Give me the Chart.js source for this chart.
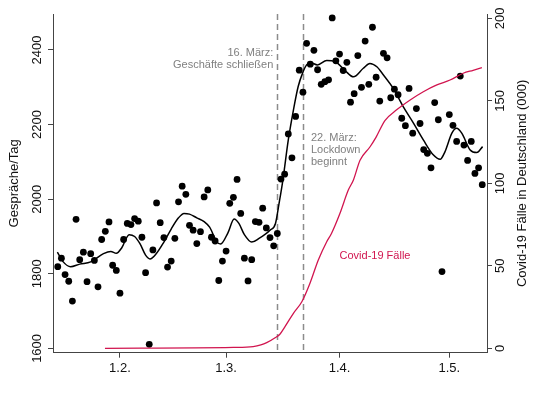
<!DOCTYPE html>
<html>
<head>
<meta charset="utf-8">
<script src="https://cdn.jsdelivr.net/npm/chart.js@4.4.1/dist/chart.umd.min.js"></script>
<style>
    html, body { margin: 0; padding: 0; background: #fff; }
    #wrap { width: 540px; height: 393px; }
</style>
</head>
<body>
<div id="wrap"><canvas id="chart"></canvas></div>
<script>

// =====================================================
// Daten (Tage ab 1. Januar, 0 = 1.1.)
// =====================================================

const ersterTag = 14;

// Gespräche pro Tag, ab Tag 14 (null = kein Wert)
const gespraeche = [
    1819, 1842, 1798, 1780, 1727, 1946, 1838, 1858, 1779, 1854,
    1836, 1765, 1892, 1914, 1939, 1823, 1809, 1748, 1892, 1935,
    1932, 1948, 1941, 1898, 1803, 1611, 1864, 1990, 1937, 1897,
    1818, 1834, 1895, 1993, 2035, 2013, 1930, 1917, 1881, 1913,
    2006, 2025, 1898, 1888, 1782, 1834, 1861, 1989, 2005, 2053,
    1962, 1842, 1781, 1838, 1940, 1938, 1976, 1923, 1897, 1875,
    1908, 2054, 2067, 2175, 2111, 2222, 2346, 2287, 2418, 2362,
    2399, 2347, 2308, 2315, 2320, 2486, 2371, 2389, 2345, 2367,
    2260, 2283, 2385, 2300, 2424, 2308, 2461, 2327, 2263, 2391,
    2379, 2272, 2295, 2280, 2217, 2197, 2297, 2177, 2243, 2203,
    2133, 2123, 2084, 2259, 2213, 1806, null, 2227, 2198, 2155,
    2330, 2145, 2104, 2155, 2069, 2084, 2039
];

// geglättete Kurve
const glattTage = [
    13.9, 15.5, 17.5, 20, 23, 26.5, 28.5, 30, 31.5, 33.5,
    35, 36.5, 38, 39.2, 41, 43, 45, 47, 48.5, 50,
    52, 54, 55.5, 57.5, 58.5, 60.5, 62.2, 63.5, 65, 67,
    69, 72, 73.5, 74.5, 75.5, 77, 78.4, 79.7, 80.9, 82,
    83, 85, 87.5, 89.8, 92.5, 94.8, 97.5, 99.3, 101.2, 103,
    105.7, 108.4, 111.2, 113.9, 116.6, 118.5, 119.8, 121.7, 123, 124.4,
    126.7, 128.5, 130.1
];
const glattWerte = [
    1858, 1832, 1819, 1826, 1832, 1854, 1860, 1855, 1870, 1905,
    1900, 1880, 1850, 1840, 1855, 1885, 1920, 1950, 1962, 1960,
    1950, 1940, 1925, 1885, 1880, 1910, 1947, 1935, 1905, 1885,
    1895, 1917, 1935, 1990, 2050, 2159, 2239, 2302, 2338, 2360,
    2366, 2360, 2372, 2369, 2345, 2328, 2351, 2364, 2355, 2333,
    2297, 2248, 2204, 2159, 2119, 2107, 2127, 2177, 2190, 2177,
    2132, 2125, 2141
];

// Covid-19 Fälle in Deutschland (000)
const faelleTage = [
    26.9, 62, 67.4, 69.5, 71.1, 73.4, 74.7, 76.1, 78.4, 80.7,
    82.9, 85.2, 87.5, 88.8, 91.1, 93.4, 94.8, 96.6, 99.3, 101,
    103.4, 106.6, 110.3, 113.9, 117.6, 121.2, 124.8, 127.5, 129.9
];
const faelleWerte = [
    0, 0.5, 1, 2, 3.4, 6.4, 8.5, 13.1, 21.2, 28.2,
    39.3, 53.5, 64.6, 69.6, 81.7, 95.9, 102, 114, 122, 128,
    138, 144.5, 150.5, 155.5, 159.6, 162.6, 166.7, 168.5, 170.1
];

const xTicks = [31, 60, 91, 121];
const xLabels = ["1.2.", "1.3.", "1.4.", "1.5."];
const yTicks = [1600, 1800, 2000, 2200, 2400];
const y1Ticks = [0, 50, 100, 150, 200];

const ereignisTage = [74, 81];
const ereignisTexte = [
    ["16. März:", "Geschäfte schließen"],
    ["22. März:", "Lockdown", "beginnt"]
];


// =====================================================
// Hilfen
// =====================================================

const schrift = "'Liberation Sans', Arial, sans-serif";
const rot = "#d1154f";
const achse = "#444";

const punkte = [];
gespraeche.forEach((v, i) => {
    if (v !== null) punkte.push({ x: ersterTag + i, y: v });
});

const glatt = glattTage.map((t, i) => ({ x: t, y: glattWerte[i] }));
const faelle = faelleTage.map((t, i) => ({ x: t, y: faelleWerte[i] }));

function senkrecht(ctx, text, x, y) {
    ctx.save();
    ctx.translate(x, y);
    ctx.rotate(-Math.PI / 2);
    ctx.fillText(text, 0, 0);
    ctx.restore();
}

const beschriftung = {
    id: "beschriftung",
    beforeDatasetsDraw(chart) {
        const { ctx, chartArea, scales } = chart;
        ctx.save();
        ctx.strokeStyle = "#8c8c8c";
        ctx.lineWidth = 1.5;
        ctx.setLineDash([6, 4]);
        ereignisTage.forEach(t => {
            const x = Math.round(scales.x.getPixelForValue(t)) + 0.5;
            ctx.beginPath();
            ctx.moveTo(x, chartArea.top);
            ctx.lineTo(x, chartArea.bottom);
            ctx.stroke();
        });
        ctx.restore();
    },
    afterDraw(chart) {
        const { ctx, scales, chartArea } = chart;
        const mitte = (chartArea.top + chartArea.bottom) / 2;
        ctx.save();
        ctx.fillStyle = "#111";
        ctx.textAlign = "center";
        ctx.textBaseline = "middle";
        ctx.font = "13px " + schrift;
        yTicks.forEach(v => senkrecht(ctx, String(v), 37, scales.y.getPixelForValue(v)));
        y1Ticks.forEach(v => senkrecht(ctx, String(v), 500, scales.y1.getPixelForValue(v)));
        senkrecht(ctx, "Gespräche/Tag", 14, mitte);
        senkrecht(ctx, "Covid-19 Fälle in Deutschland (000)", 522, mitte);

        ctx.font = "11px " + schrift;
        ctx.fillStyle = "#808080";
        const x1 = scales.x.getPixelForValue(ereignisTage[0]);
        ctx.textAlign = "right";
        ereignisTexte[0].forEach((z, i) => ctx.fillText(z, x1 - 4, 53 + i * 11.5));
        const x2 = scales.x.getPixelForValue(ereignisTage[1]);
        ctx.textAlign = "left";
        ereignisTexte[1].forEach((z, i) => ctx.fillText(z, x2 + 8, 138 + i * 12));

        ctx.fillStyle = rot;
        ctx.textAlign = "center";
        ctx.fillText("Covid-19 Fälle", 375, 256);
        ctx.restore();
    }
};


// =====================================================
// Diagramm
// =====================================================

new Chart(document.getElementById("chart"), {

    type: "scatter",

    data: {
        datasets: [
            {
                data: faelle,
                yAxisID: "y1",
                showLine: true,
                borderColor: rot,
                borderWidth: 1.3,
                pointRadius: 0,
                cubicInterpolationMode: "monotone",
                order: 1
            },
            {
                data: glatt,
                yAxisID: "y",
                showLine: true,
                borderColor: "#000",
                borderWidth: 1.5,
                pointRadius: 0,
                cubicInterpolationMode: "monotone",
                order: 2
            },
            {
                data: punkte,
                yAxisID: "y",
                backgroundColor: "#000",
                borderWidth: 0,
                pointRadius: 3.4,
                order: 3
            }
        ]
    },

    options: {
        responsive: true,
        maintainAspectRatio: false,
        animation: false,
        layout: { padding: { top: 14, left: 0, right: 0, bottom: 0 } },
        plugins: {
            legend: { display: false },
            tooltip: { enabled: false }
        },
        scales: {
            x: {
                type: "linear",
                position: "bottom",
                min: 12.7,
                max: 131.3,
                afterBuildTicks: s => { s.ticks = xTicks.map(v => ({ value: v })); },
                afterFit: s => { s.height = 40.3; },
                ticks: {
                    autoSkip: false,
                    maxRotation: 0,
                    padding: 3,
                    color: "#111",
                    font: { family: schrift, size: 13 },
                    callback: v => xLabels[xTicks.indexOf(v)]
                },
                grid: { drawOnChartArea: false, color: achse, tickLength: 5 },
                border: { color: achse, width: 1 }
            },
            y: {
                type: "linear",
                position: "left",
                min: 1588.5,
                max: 2496.5,
                afterBuildTicks: s => { s.ticks = yTicks.map(v => ({ value: v })); },
                afterFit: s => { s.width = 53; },
                ticks: { display: false },
                grid: { drawOnChartArea: false, color: achse, tickLength: 5 },
                border: { color: achse, width: 1 }
            },
            y1: {
                type: "linear",
                position: "right",
                min: -2.67,
                max: 202.6,
                afterBuildTicks: s => { s.ticks = y1Ticks.map(v => ({ value: v })); },
                afterFit: s => { s.width = 53; },
                ticks: { display: false },
                grid: { drawOnChartArea: false, color: achse, tickLength: 5 },
                border: { color: achse, width: 1 }
            }
        }
    },

    plugins: [beschriftung]

});

</script>
</body>
</html>
